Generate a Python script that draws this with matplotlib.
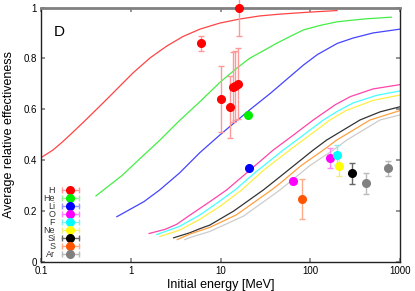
import numpy as np
import matplotlib.pyplot as plt
from matplotlib.lines import Line2D
from matplotlib.legend_handler import HandlerLine2D, HandlerTuple
from matplotlib.ticker import FixedLocator, FixedFormatter, NullLocator

plt.rcParams['font.family'] = ['Liberation Sans', 'DejaVu Sans']

# model curves (energy MeV, effectiveness)
h_E = [0.1, 0.136, 0.171, 0.21, 0.294, 0.454, 0.587, 0.76, 1.06, 1.64, 2.53, 3.82,
       5.9, 9.87, 16.5, 27.5, 46, 99, 199]
h_y = [0.41, 0.44, 0.47, 0.499, 0.548, 0.613, 0.652, 0.692, 0.743, 0.802, 0.849, 0.886,
       0.915, 0.939, 0.955, 0.967, 0.974, 0.982, 0.988]
he_E = [0.41, 0.8, 1.3, 2.1, 3.5, 5.9, 10, 15, 21, 30, 40, 55, 84, 130, 200, 400, 800]
he_y = [0.26, 0.34, 0.41, 0.478, 0.556, 0.63, 0.708, 0.76, 0.80, 0.83, 0.855, 0.88,
        0.912, 0.93, 0.944, 0.955, 0.962]
li_E = [0.7, 1.4, 2.1, 3.5, 5.9, 9.9, 21, 36, 84, 120, 200, 300, 500, 1000]
li_y = [0.178, 0.237, 0.283, 0.35, 0.43, 0.50, 0.597, 0.663, 0.774, 0.815, 0.859,
        0.88, 0.90, 0.915]
o_E = [1.6, 2.4, 3.25, 4.6, 7.6, 11.7, 20, 38.7, 65, 108, 190, 280, 500, 1000]
o_y = [0.112, 0.128, 0.148, 0.185, 0.237, 0.283, 0.353, 0.44, 0.499, 0.558, 0.618,
       0.65, 0.68, 0.697]
f_E = [1.95, 3.5, 5.9, 9, 14.5, 25, 50, 84, 140, 200, 300, 550, 1000]
f_y = [0.108, 0.14, 0.185, 0.23, 0.283, 0.355, 0.44, 0.499, 0.558, 0.592, 0.625,
       0.655, 0.672]
ne_E = [2.1, 3.5, 5.9, 10, 17.2, 30, 59, 100, 166, 250, 500, 1000]
ne_y = [0.10, 0.125, 0.168, 0.22, 0.283, 0.36, 0.44, 0.50, 0.558, 0.595, 0.635, 0.656]
si_E = [3.0, 4.57, 5.9, 7.6, 14, 30, 46, 108, 152, 358, 600, 1000]
si_y = [0.095, 0.115, 0.131, 0.145, 0.2, 0.283, 0.335, 0.44, 0.479, 0.558, 0.59, 0.61]
s_E = [3.3, 4.57, 5.9, 7.6, 15, 37, 46, 80, 140, 197, 463, 1000]
s_y = [0.088, 0.11, 0.123, 0.136, 0.185, 0.283, 0.309, 0.38, 0.44, 0.479, 0.558, 0.595]
ar_E = [4.0, 4.57, 5.9, 7.6, 18, 46, 100, 181, 255, 598, 1000]
ar_y = [0.088, 0.096, 0.108, 0.12, 0.18, 0.283, 0.38, 0.44, 0.479, 0.558, 0.578]

# measured points
h_pE = [6.0, 10.0, 12.7, 13.8, 14.6, 15.8, 16.1]
h_py = [0.86, 0.639, 0.609, 0.689, 0.693, 0.70, 1.0]
h_pe = [0.03, 0.13, 0.12, 0.137, 0.137, 0.14, 0.11]
he_pE = [20.2]; he_py = [0.578]; he_pe = [0.01]
li_pE = [21.0]; li_py = [0.369]; li_pe = [0.0]
o_pE = [63.6, 167]; o_py = [0.318, 0.408]; o_pe = [0.01, 0.04]
f_pE = [199]; f_py = [0.42]; f_pe = [0.04]
ne_pE = [211]; ne_py = [0.378]; ne_pe = [0.04]
si_pE = [292]; si_py = [0.348]; si_pe = [0.04]
s_pE = [81]; s_py = [0.248]; s_pe = [0.08]
ar_pE = [418, 741]; ar_py = [0.309, 0.368]; ar_pe = [0.04, 0.03]

labels = ["H", "He", "Li", "O", "F", "Ne", "Si", "S", "Ar"]
pt_col = ["#ff0000", "#00ee00", "#0000ff", "#ff00ff", "#00ffff", "#ffff00", "#000000", "#ff5500", "#808080"]
ln_col = ["#ff4444", "#44ee44", "#4444ff", "#ff44aa", "#44ffff", "#ffee44", "#333333", "#ffa040", "#cccccc"]
err_col = ["#ff9999", "#99ee99", "#9999ff", "#ff88ff", "#88eeee", "#eeee88", "#666666", "#ffaa88", "#bbbbbb"]

curves = [(h_E, h_y), (he_E, he_y), (li_E, li_y), (o_E, o_y), (f_E, f_y),
          (ne_E, ne_y), (si_E, si_y), (s_E, s_y), (ar_E, ar_y)]
points = [(h_pE, h_py, h_pe), (he_pE, he_py, he_pe), (li_pE, li_py, li_pe),
          (o_pE, o_py, o_pe), (f_pE, f_py, f_pe), (ne_pE, ne_py, ne_pe),
          (si_pE, si_py, si_pe), (s_pE, s_py, s_pe), (ar_pE, ar_py, ar_pe)]

fig = plt.figure(figsize=(4.15, 2.91), dpi=100)
ax = fig.add_axes([0.0988, 0.0997, 0.8651, 0.8745])

for (E, y), c in zip(curves, ln_col):
    ax.plot(E, y, color=c, lw=0.9, zorder=2)

for (E, y, e), c, ec in zip(points, pt_col, err_col):
    ax.errorbar(E, y, yerr=e, fmt='o', color=c, ms=5.5, ecolor=ec,
                elinewidth=1.0, capsize=2, capthick=1.0, zorder=4, clip_on=False)

ax.set_xscale('log')
ax.set_xlim(0.1, 1000)
ax.set_ylim(0, 1)
ax.xaxis.set_major_locator(FixedLocator([0.1, 1, 10, 100, 1000]))
ax.xaxis.set_major_formatter(FixedFormatter(["0.1", "1", "10", "100", "1000"]))
ax.xaxis.set_minor_locator(NullLocator())
ax.set_yticks([0, 0.2, 0.4, 0.6, 0.8, 1.0])
ax.set_yticklabels(["0", "0.2", "0.4", "0.6", "0.8", "1"])
ax.tick_params(direction='in', length=3, width=1.2, color='#808080',
               labelsize=7, top=True, right=True, pad=3)

for s in ['left', 'bottom', 'right']:
    ax.spines[s].set_color('#222222')
    ax.spines[s].set_linewidth(1.0)
ax.spines['top'].set_color('#808080')
ax.spines['top'].set_linewidth(2.0)

ax.set_xlabel("Initial energy [MeV]", fontsize=9, labelpad=2)
ax.set_ylabel("Average relative effectiveness", fontsize=9, labelpad=6)
ax.text(0.035, 0.89, "D", transform=ax.transAxes, fontsize=11)

# legend: label, then a horizontal bar with caps and a dot
handles = []
hmap = {}
for c, ec in zip(pt_col, err_col):
    bar = Line2D([], [], color=ec, lw=1.0, marker='|', ms=4, mew=1.0)
    dot = Line2D([], [], color=c, marker='o', ms=5.5, ls='none')
    hmap[bar] = HandlerLine2D(numpoints=2)
    hmap[dot] = HandlerLine2D(numpoints=1)
    handles.append((bar, dot))
hmap[tuple] = HandlerTuple(ndivide=1, pad=0)
leg = ax.legend(handles, labels, handler_map=hmap, loc='lower left',
                bbox_to_anchor=(0.0, 0.0), markerfirst=False, frameon=False,
                fontsize=6.5, handlelength=2.5, handleheight=0.5, handletextpad=0.4,
                labelspacing=-0.1, borderaxespad=0.0, borderpad=0.3)
for t in leg.get_texts():
    t.set_color('#333333')

fig.savefig("out.png", dpi=100)
